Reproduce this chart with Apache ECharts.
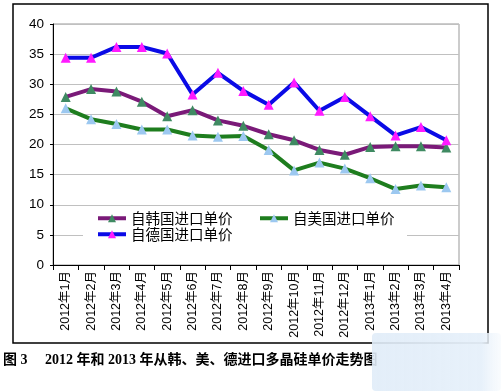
<!DOCTYPE html>
<html><head><meta charset="utf-8">
<script src="https://cdn.jsdelivr.net/npm/echarts@6/dist/echarts.min.js"></script>
<style>html,body{margin:0;padding:0;background:#fff}#c{width:501px;height:391px}</style>
</head><body><div id="c"></div>
<script>
var categories = ['2012年1月','2012年2月','2012年3月','2012年4月','2012年5月','2012年6月','2012年7月','2012年8月','2012年9月','2012年10月','2012年11月','2012年12月','2013年1月','2013年2月','2013年3月','2013年4月'];
var korea = [27.9,29.2,28.8,27.1,24.7,25.7,24.0,23.1,21.7,20.7,19.1,18.3,19.6,19.7,19.7,19.5];
var usa = [26.0,24.2,23.4,22.5,22.5,21.5,21.3,21.4,19.1,15.7,17.0,16.0,14.4,12.6,13.2,12.9];
var germany = [34.4,34.4,36.2,36.2,35.1,28.3,31.9,28.9,26.6,30.3,25.6,27.9,24.7,21.5,22.9,20.7];
var yTicks = {min:0, max:40, interval:5};
var caption = '图 3　 2012 年和 2013 年从韩、美、德进口多晶硅单价走势图';

var chart = echarts.init(document.getElementById('c'), null, {renderer:'canvas'});
var baseFont = 'Liberation Sans, Arial, Noto Sans CJK SC, sans-serif';
function ser(name, data, lineColor, markColor){
  return {name:name, type:'line', data:data, symbol:'triangle', symbolSize:10,
    lineStyle:{color:lineColor, width:4}, itemStyle:{color:markColor, borderWidth:0},
    color:lineColor, z:3};
}
var legText = {fontSize:14.5, color:'#000', fontFamily:'Noto Sans CJK SC, sans-serif'};
function leg(name, left, top){
  return {data:[name], left:left, top:top, itemWidth:28, itemHeight:10, itemGap:4, padding:0,
    textStyle:legText, lineStyle:{width:4}};
}
chart.setOption({
  animation:false,
  grid:{left:53, right:42, top:24, bottom:126, show:true, borderColor:'#999', borderWidth:1, backgroundColor:'transparent'},
  xAxis:{type:'category', data:categories, boundaryGap:true,
    axisLine:{lineStyle:{color:'#000', width:1}},
    axisTick:{show:true, length:5, lineStyle:{color:'#000'}},
    axisLabel:{rotate:90, fontSize:12.5, color:'#000', fontFamily:baseFont, margin:6, interval:0},
    splitLine:{show:false}},
  yAxis:{type:'value', min:yTicks.min, max:yTicks.max, interval:yTicks.interval,
    axisLine:{show:true, lineStyle:{color:'#000', width:1}},
    axisTick:{show:true, length:3, lineStyle:{color:'#000'}},
    axisLabel:{fontSize:13.5, color:'#000', fontFamily:baseFont, margin:9},
    splitLine:{show:true, lineStyle:{color:'#c0c0c0', width:1}}},
  legend:[
    leg('自韩国进口单价', 96, 211),
    leg('自德国进口单价', 96, 227),
    leg('自美国进口单价', 258, 211)
  ],
  series:[
    ser('自韩国进口单价', korea, '#7a1a78', '#3f8a62'),
    ser('自美国进口单价', usa, '#1e7d1e', '#9cc8f0'),
    ser('自德国进口单价', germany, '#0a0ae6', '#ff1aff')
  ],
  graphic:[
    {type:'rect', shape:{x:83, y:207, width:324, height:38}, style:{fill:'#fff'}, z:1, silent:true},
    {type:'rect', shape:{x:13, y:4, width:475, height:339}, style:{fill:'none', stroke:'#000', lineWidth:1.5}, z:5, silent:true},
    {type:'text', left:3, top:353, style:{text:caption, fontSize:14, fontWeight:'bold', fill:'#000', fontFamily:'Liberation Serif, Noto Sans CJK SC, serif'}, z:5},
    {type:'rect', shape:{x:372, y:333, width:129, height:58, r:4}, style:{fill:new echarts.graphic.LinearGradient(0,0,1,0,[{offset:0,color:'rgba(224,236,248,0.9)'},{offset:0.85,color:'rgba(230,240,250,0.95)'},{offset:1,color:'rgba(245,249,253,0.6)'}])}, z:6, silent:true}
  ]
});
</script></body></html>
